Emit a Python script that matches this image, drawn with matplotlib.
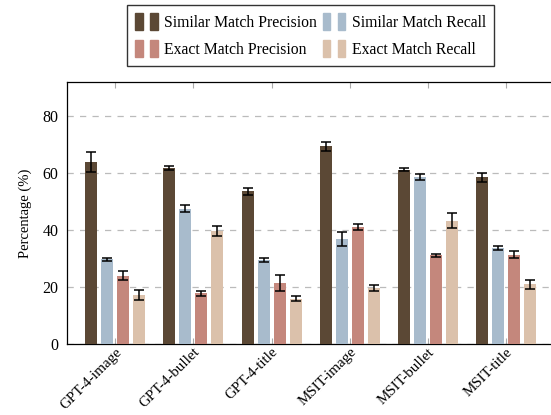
import numpy as np
import matplotlib.pyplot as plt
import matplotlib.transforms as mtransforms
from matplotlib.patches import Patch
from matplotlib.legend_handler import HandlerTuple

plt.rcParams['font.family'] = ['Liberation Serif', 'DejaVu Serif']

categories = ["GPT-4-image", "GPT-4-bullet", "GPT-4-title", "MSIT-image", "MSIT-bullet", "MSIT-title"]
series = ["Similar Match Precision", "Similar Match Recall", "Exact Match Precision", "Exact Match Recall"]

sim_prec = [64.0, 61.8, 53.6, 69.5, 61.3, 58.6]
sim_prec_err = [3.6, 0.8, 1.1, 1.6, 0.6, 1.5]
sim_rec = [29.8, 47.5, 29.5, 36.9, 58.7, 33.8]
sim_rec_err = [0.5, 1.2, 0.6, 2.5, 1.2, 0.8]
ex_prec = [24.0, 17.9, 21.4, 41.2, 31.2, 31.4]
ex_prec_err = [1.6, 0.9, 2.7, 1.1, 0.5, 1.3]
ex_rec = [17.2, 39.8, 15.9, 19.8, 43.3, 21.0]
ex_rec_err = [1.7, 1.8, 0.9, 1.1, 2.6, 1.5]

colors = ["#5b4835", "#a8bbcc", "#c4877c", "#dbc1ab"]

fig = plt.figure(figsize=(5.51, 4.15), dpi=100)
ax = fig.add_axes([0.1216, 0.171, 0.884, 0.631])

x = np.arange(len(categories))
width = 0.154
offsets = [-1.5, -0.5, 0.5, 1.5]
vals = [sim_prec, sim_rec, ex_prec, ex_rec]
errs = [sim_prec_err, sim_rec_err, ex_prec_err, ex_rec_err]

handles = []
for i in range(4):
    ax.bar(x + offsets[i] * 0.205, vals[i], width, color=colors[i], zorder=3,
           yerr=errs[i], capsize=3.5,
           error_kw=dict(ecolor="black", elinewidth=1.1, capthick=1.1, zorder=4))
    handles.append((Patch(color=colors[i]), Patch(color=colors[i])))

ax.set_xlim(-0.62, len(categories) - 1 + 0.62)
ax.set_ylim(0, 92)
ax.set_yticks([0, 20, 40, 60, 80])
ax.set_xticks(x)
ax.set_xticklabels(categories, rotation=45, ha="right", rotation_mode="anchor")
shift = mtransforms.ScaledTranslation(-4 / 72, 2 / 72, fig.dpi_scale_trans)
for lbl in ax.get_xticklabels():
    lbl.set_transform(lbl.get_transform() + shift)
ax.tick_params(axis="x", direction="in", length=4, color="#aaaaaa", top=True, labelsize=10.8, pad=1)
ax.tick_params(axis="y", length=0, labelsize=11.5, pad=6)
ax.yaxis.grid(True, linestyle=(0, (5, 5)), color="#bbbbbb", linewidth=0.9, zorder=0)
ax.set_ylabel("Percentage (%)", fontsize=10.5, labelpad=8)
for s in ax.spines.values():
    s.set_linewidth(0.9)

# legend is filled column-wise, reorder so rows read SMP/SMR, EMP/EMR
order = [0, 2, 1, 3]
fig.legend([handles[k] for k in order], [series[k] for k in order],
           loc="upper center", bbox_to_anchor=(0.5635, 0.995), ncol=2,
           handler_map={tuple: HandlerTuple(ndivide=None, pad=0.45)},
           handlelength=1.45, handleheight=1.3, handletextpad=0.4, columnspacing=0.35,
           fontsize=11.3, frameon=True, fancybox=False, edgecolor="black",
           borderpad=0.5, borderaxespad=0.2, labelspacing=0.6)

fig.savefig("out.png", dpi=100)
